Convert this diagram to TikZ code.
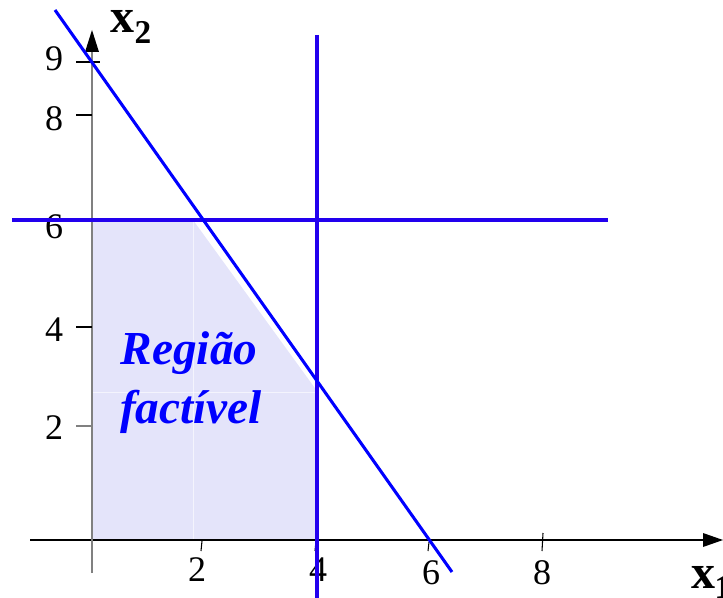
\documentclass[tikz,border=0pt]{standalone}
\usepackage{fontspec}
\setmainfont{Liberation Serif}
\definecolor{regfill}{RGB}{228,228,250}
\definecolor{lblue}{RGB}{0,0,255}
\definecolor{vblue}{RGB}{34,0,238}
\definecolor{axgray}{RGB}{128,128,128}
\begin{document}
\begin{tikzpicture}[x=0.75pt,y=-0.75pt,
  diagline/.style={line width=2.3pt,draw=lblue},
  hvline/.style={line width=2.5pt,draw=vblue},
  tickmark/.style={line width=0.8pt,black},
  ticklbl/.style={inner sep=0pt,font=\fontsize{27}{29}\selectfont},
  axlbl/.style={inner sep=0pt,font=\bfseries\fontsize{36}{38}\selectfont},
  sublbl/.style={inner sep=0pt,font=\bfseries\fontsize{25}{27}\selectfont},
  reglbl/.style={inner sep=0pt,text=lblue,font=\bfseries\itshape\fontsize{35.5}{37}\selectfont}]
\useasboundingbox (0,0) rectangle (723,598);
% feasible region
\fill[regfill] (92,220) -- (193,220) -- (317,391) -- (317,540) -- (92,540) -- cycle;
\draw[white,line width=0.4pt,opacity=0.6] (193,220) -- (193,540);
\draw[white,line width=0.4pt,opacity=0.6] (92,392) -- (317,392);
% axes
\coordinate (xs) at (30,540);
\coordinate (xe) at (705,540);
\coordinate (ys) at (92,573);
\coordinate (ye) at (92,50);
\draw[line width=0.8pt,black] (xs) -- (xe);
\fill[black] (723,540) -- (703,533) -- (703,547) -- cycle;
\draw[line width=0.9pt,axgray] (ys) -- (ye);
\fill[black] (92,30) -- (85,52) -- (99,52) -- cycle;
% y ticks
\draw[tickmark] (76,62) -- (100,62);
\draw[tickmark] (76,115) -- (92,115);
\draw[tickmark] (76,327) -- (92,327);
\draw[line width=0.8pt,axgray] (76,426) -- (92,426);
% x ticks
\draw[tickmark] (202,541) -- (201,551);
\draw[tickmark] (316,541) -- (315,551);
\draw[tickmark] (429,542) -- (428,551);
\draw[tickmark] (543,533) -- (542,551);
% tick labels
\node[ticklbl] (y9) at (54,59) {9};
\node[ticklbl] (y8) at (54,119) {8};
\node[ticklbl] (y6) at (54,227) {6};
\node[ticklbl] (y4) at (54,330) {4};
\node[ticklbl] (y2) at (54,428) {2};
\node[ticklbl] (x2) at (197,570) {2};
\node[ticklbl] (x4) at (318,570) {4};
\node[ticklbl] (x6) at (431,573) {6};
\node[ticklbl] (x8) at (542,573) {8};
% axis labels
\node[axlbl,anchor=base] (lx2) at (122,33) {x};
\node[sublbl,anchor=base] (lx2s) at (143,44) {2};
\node[axlbl,anchor=base] (lx1) at (703,588) {x};
\node[sublbl,anchor=base] (lx1s) at (723,598) {1};
% constraint lines
\coordinate (da) at (55,10);
\coordinate (db) at (452,572);
\coordinate (ha) at (12,220);
\coordinate (hb) at (608,220);
\coordinate (va) at (317,35);
\coordinate (vb) at (317,598);
\draw[hvline] (ha) -- (hb);
\draw[hvline] (va) -- (vb);
\draw[diagline] (da) -- (db);
% region label
\node[reglbl] (r1) at (189,353) {Região};
\node[reglbl] (r2) at (191,412) {factível};
\end{tikzpicture}
\end{document}
